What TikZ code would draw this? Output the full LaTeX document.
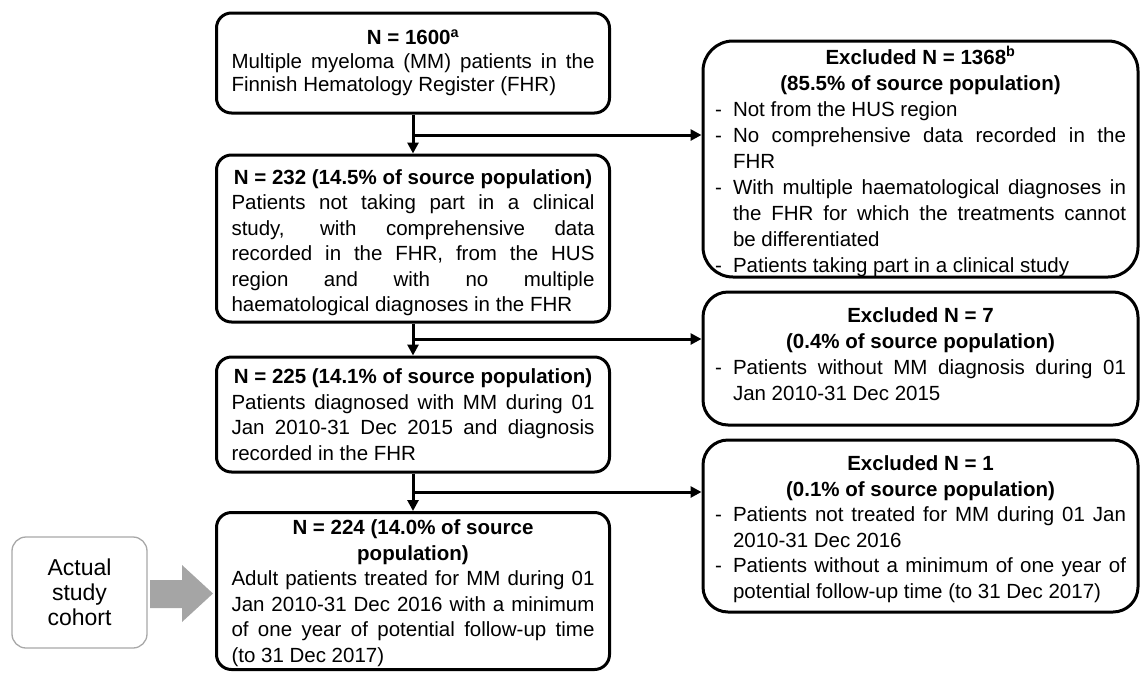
\documentclass[tikz,border=0pt]{standalone}
\usepackage{fontspec}
\setmainfont{Liberation Sans}
\usetikzlibrary{arrows.meta}
\setlength{\parindent}{0pt}
\definecolor{cohortgray}{HTML}{A8A8A8}
\definecolor{arrowgray}{HTML}{A5A5A5}
\newcommand{\itm}[1]{\par\hangindent=18pt\hangafter=1\noindent\makebox[18pt][l]{-}#1\par}
\newcommand{\hdr}[1]{{\centering\bfseries #1\par}}
\newcommand{\tailshift}[1]{\par\kern#1\relax\hrule height 0pt width 0pt\relax}
\begin{document}
\begin{tikzpicture}[x=1pt,y=-1pt,
  every node/.style={font=\fontsize{20.5pt}{25.5pt}\selectfont},
  lbox/.style={draw, line width=3pt, rounded corners=15pt, text width=363pt,
    inner xsep=15pt, inner ysep=3pt, align=justify},
  rbox/.style={draw, line width=3pt, rounded corners=25pt, text width=411pt,
    inner xsep=12pt, inner ysep=2pt, align=justify,
    font=\fontsize{20.5pt}{26pt}\selectfont},
  arr/.style={line width=3pt, -{Triangle[length=11pt,width=11pt]}}]
\useasboundingbox (0,0) rectangle (1140,672);

% left column
\node[lbox, minimum height=100pt, font=\fontsize{20.5pt}{23.5pt}\selectfont] (b1) at (413,63)
  {\hdr{N = 1600\textsuperscript{a}}Multiple myeloma (MM) patients in the\linebreak Finnish Hematology Register (FHR)};
\node[lbox, minimum height=167pt] (b2) at (413,238.5)
  {\hdr{N = 232 (14.5\% of source population)}Patients not taking part in a clinical\linebreak study, with comprehensive data\linebreak recorded in the FHR, from the HUS\linebreak region and with no multiple\linebreak haematological diagnoses in the FHR\tailshift{-8pt}};
\node[lbox, minimum height=115pt] (b3) at (413,414.5)
  {\hdr{N = 225 (14.1\% of source population)}Patients diagnosed with MM during 01\linebreak Jan 2010-31 Dec 2015 and diagnosis\linebreak recorded in the FHR};
\node[lbox, minimum height=157pt] (b4) at (413,591)
  {\hdr{N = 224 (14.0\% of source\\population)}Adult patients treated for MM during 01\linebreak Jan 2010-31 Dec 2016 with a minimum\linebreak of one year of potential follow-up time\linebreak (to 31 Dec 2017)\tailshift{-4pt}};

% right column
\node[rbox, rounded corners=30pt, minimum height=236pt] (r1) at (920.5,159)
  {\hdr{Excluded N = 1368\textsuperscript{b}\\(85.5\% of source population)}%
   \itm{Not from the HUS region}%
   \itm{No comprehensive data recorded in the\linebreak FHR}%
   \itm{With multiple haematological diagnoses in\linebreak the FHR for which the treatments cannot\linebreak be differentiated}%
   \itm{Patients taking part in a clinical study}\tailshift{-5pt}};
\node[rbox, minimum height=133pt] (r2) at (920.5,358.5)
  {\hdr{Excluded N = 7\\(0.4\% of source population)}%
   \itm{Patients without MM diagnosis during 01\linebreak Jan 2010-31 Dec 2015}\tailshift{8pt}};
\node[rbox, minimum height=172pt, font=\fontsize{20.5pt}{25.5pt}\selectfont] (r3) at (920.5,526)
  {\hdr{Excluded N = 1\\(0.1\% of source population)}%
   \itm{Patients not treated for MM during 01 Jan\linebreak 2010-31 Dec 2016}%
   \itm{Patients without a minimum of one year of\linebreak potential follow-up time (to 31 Dec 2017)}\tailshift{-6pt}};

% cohort label
\node[draw=cohortgray, line width=1.3pt, rounded corners=14pt, minimum width=135pt,
  minimum height=111pt, align=center, inner sep=0pt,
  font=\fontsize{23pt}{25pt}\selectfont] (coh) at (79.5,592.5)
  {Actual\\study\\cohort};
\fill[arrowgray] (150,580) -- (182,580) -- (182,565) -- (213,593.5) -- (182,622)
  -- (182,608) -- (150,608) -- cycle;

% connectors
\coordinate (j1) at (413,135);
\coordinate (j2) at (413,339);
\coordinate (j3) at (413,492);
\draw[arr] (b1) -- (b2);
\draw[arr] (b2) -- (b3);
\draw[arr] (b3) -- (b4);
\draw[arr] (j1) -- (j1 -| r1.west);
\draw[arr] (j2) -- (j2 -| r2.west);
\draw[arr] (j3) -- (j3 -| r3.west);
\end{tikzpicture}
\end{document}
